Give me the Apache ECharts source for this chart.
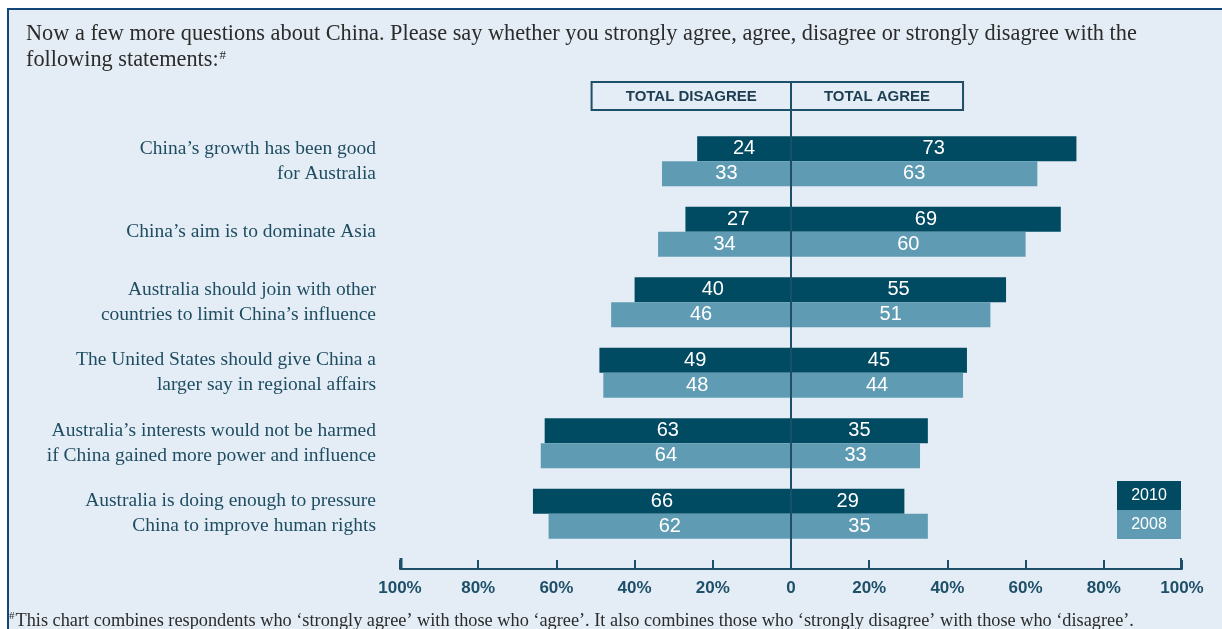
<!DOCTYPE html>
<html>
<head>
<meta charset="utf-8">
<script src="https://cdn.jsdelivr.net/npm/echarts@6/dist/echarts.min.js"></script>
<style>
html,body{margin:0;padding:0;background:#ffffff;}
#chart{width:1222px;height:629px;}
</style>
</head>
<body>
<div id="chart"></div>
<script>
const categories = [
  "China’s growth has been good\nfor Australia",
  "China’s aim is to dominate Asia",
  "Australia should join with other\ncountries to limit China’s influence",
  "The United States should give China a\nlarger say in regional affairs",
  "Australia’s interests would not be harmed\nif China gained more power and influence",
  "Australia is doing enough to pressure\nChina to improve human rights"
];
const disagree2010 = [24, 27, 40, 49, 63, 66];
const agree2010    = [73, 69, 55, 45, 35, 29];
const disagree2008 = [33, 34, 46, 48, 64, 62];
const agree2008    = [63, 60, 51, 44, 33, 35];
const xTicks = [-100, -80, -60, -40, -20, 0, 20, 40, 60, 80, 100];

const DARK = '#004a62';
const LIGHT = '#5f9cb4';
const AXIS = '#1d5068';
const BG = '#e4edf5';
const SERIF = '"Liberation Serif", "Times New Roman", serif';

const chart = echarts.init(document.getElementById('chart'));

const barLabel = {
  show: true, position: 'inside', color: '#ffffff',
  fontFamily: 'Liberation Sans, Arial, sans-serif', fontSize: 20,
  formatter: p => Math.abs(p.value)
};

function mkSeries(name, data, stack, color) {
  return {
    name: name, type: 'bar', stack: stack, data: data,
    barWidth: 25, barGap: '0%',
    itemStyle: { color: color },
    label: barLabel,
    emphasis: { disabled: true },
    silent: true
  };
}

chart.setOption({
  backgroundColor: '#ffffff',
  animation: false,
  grid: { left: 400, right: 40, top: 126, bottom: 80 },
  xAxis: {
    type: 'value', min: -100, max: 100, interval: 20,
    position: 'bottom', offset: 20,
    axisLine: { show: true, lineStyle: { color: AXIS, width: 2 } },
    axisTick: { show: true, inside: true, length: 9, lineStyle: { color: AXIS, width: 2 } },
    splitLine: { show: false },
    axisLabel: {
      color: AXIS, fontFamily: '"Liberation Sans", Arial, sans-serif',
      fontSize: 17, fontWeight: 'bold', margin: 11,
      formatter: v => (xTicks.indexOf(v) >= 0 ? (v === 0 ? '0' : Math.abs(v) + '%') : '')
    }
  },
  yAxis: {
    type: 'category', data: categories, inverse: true,
    axisLine: { show: false }, axisTick: { show: false },
    axisLabel: {
      color: '#1e4d62', fontFamily: SERIF,
      fontSize: 19.5, lineHeight: 25, margin: 24, align: 'right'
    }
  },
  series: [
    mkSeries('2010 disagree', disagree2010.map(v => -v), 's2010', DARK),
    mkSeries('2010 agree', agree2010, 's2010', DARK),
    mkSeries('2008 disagree', disagree2008.map(v => -v), 's2008', LIGHT),
    mkSeries('2008 agree', agree2008, 's2008', LIGHT)
  ]
});

const x0 = chart.convertToPixel({ xAxisIndex: 0 }, 0);
const xL = chart.convertToPixel({ xAxisIndex: 0 }, -100);
const xR = chart.convertToPixel({ xAxisIndex: 0 }, 100);
const xDisStart = chart.convertToPixel({ xAxisIndex: 0 }, -51);
const xAgrEnd = chart.convertToPixel({ xAxisIndex: 0 }, 44);
const axisY = 569;
const boxTop = 82, boxH = 28;

chart.setOption({
  graphic: [
    { type: 'rect', z: -10, shape: { x: 8, y: 9, width: 1230, height: 640 },
      style: { fill: BG, stroke: '#12467a', lineWidth: 2 }, silent: true },
    { type: 'text', left: 26, top: 23, silent: true,
      style: { text: 'Now a few more questions about China. Please say whether you strongly agree, agree, disagree or strongly disagree with the',
               fill: '#2b2b2b', font: '22.3px ' + SERIF } },
    { type: 'text', left: 26, top: 49, silent: true,
      style: { text: '{a|following statements:}{s|#}',
               rich: { a: { fill: '#2b2b2b', font: '22.3px ' + SERIF, verticalAlign: 'bottom' },
                       s: { fill: '#2b2b2b', font: '13px ' + SERIF, verticalAlign: 'top', padding: [0, 0, 8, 1] } } } },
    { type: 'rect', z: 5, shape: { x: xDisStart, y: boxTop, width: x0 - xDisStart, height: boxH },
      style: { fill: 'none', stroke: AXIS, lineWidth: 2 }, silent: true },
    { type: 'rect', z: 5, shape: { x: x0, y: boxTop, width: xAgrEnd - x0, height: boxH },
      style: { fill: 'none', stroke: AXIS, lineWidth: 2 }, silent: true },
    { type: 'text', z: 6, x: (xDisStart + x0) / 2, y: boxTop + boxH / 2 + 1, silent: true,
      style: { text: 'TOTAL DISAGREE', fill: '#1d3d50', align: 'center', verticalAlign: 'middle',
               font: 'bold 15px "Liberation Sans", Arial, sans-serif' } },
    { type: 'text', z: 6, x: (xAgrEnd + x0) / 2, y: boxTop + boxH / 2 + 1, silent: true,
      style: { text: 'TOTAL AGREE', fill: '#1d3d50', align: 'center', verticalAlign: 'middle',
               font: 'bold 15px "Liberation Sans", Arial, sans-serif' } },
    { type: 'line', z: 50, shape: { x1: x0, y1: boxTop, x2: x0, y2: axisY },
      style: { stroke: AXIS, lineWidth: 2 }, silent: true },
    { type: 'line', z: 50, shape: { x1: xL + 1, y1: axisY - 11, x2: xL + 1, y2: axisY },
      style: { stroke: AXIS, lineWidth: 3 }, silent: true },
    { type: 'line', z: 50, shape: { x1: xR - 1, y1: axisY - 11, x2: xR - 1, y2: axisY },
      style: { stroke: AXIS, lineWidth: 2 }, silent: true },
    { type: 'rect', z: 5, shape: { x: 1117, y: 481, width: 64, height: 29 }, style: { fill: DARK }, silent: true },
    { type: 'rect', z: 5, shape: { x: 1117, y: 510, width: 64, height: 29 }, style: { fill: LIGHT }, silent: true },
    { type: 'text', z: 6, x: 1149, y: 496, silent: true,
      style: { text: '2010', fill: '#ffffff', align: 'center', verticalAlign: 'middle', font: '16px "Liberation Sans", Arial, sans-serif' } },
    { type: 'text', z: 6, x: 1149, y: 525, silent: true,
      style: { text: '2008', fill: '#ffffff', align: 'center', verticalAlign: 'middle', font: '16px "Liberation Sans", Arial, sans-serif' } },
    { type: 'text', left: 9, top: 611, silent: true,
      style: { text: '{s|#}{a|This chart combines respondents who ‘strongly agree’ with those who ‘agree’. It also combines those who ‘strongly disagree’ with those who ‘disagree’.}',
               rich: { a: { fill: '#2b2b2b', font: '18.3px ' + SERIF, verticalAlign: 'bottom' },
                       s: { fill: '#2b2b2b', font: '11px ' + SERIF, verticalAlign: 'top', padding: [0, 1, 8, 0] } } } }
  ]
});
</script>
</body>
</html>
